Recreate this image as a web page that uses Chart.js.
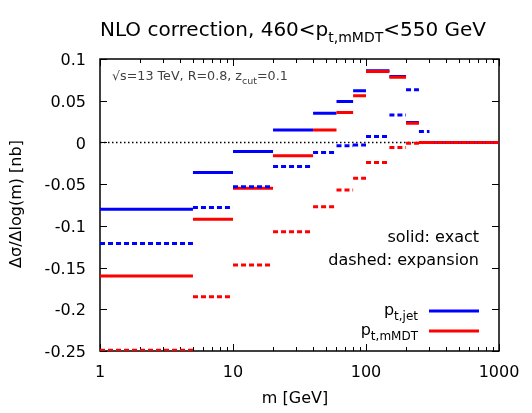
<!DOCTYPE html>
<html>
<head>
<meta charset="utf-8">
<script src="https://cdn.jsdelivr.net/npm/chart.js@4.4.1/dist/chart.umd.min.js"></script>
<style>
  html, body { margin: 0; padding: 0; background: #fff; }
  #wrap { width: 532px; height: 413px; }
</style>
</head>
<body>
<div id="wrap"><canvas id="grafico" width="532" height="413"></canvas></div>
<script>
// bin edges in m [GeV]
const binEdges = [1, 5, 10, 20, 40, 60, 80, 100, 150, 200, 250, 300, 1000];

// Δσ/Δlog(m) [nb] per bin
const jetExact      = [-0.080, -0.036, -0.011, 0.015, 0.035, 0.049, 0.062, 0.086, 0.079, 0.024, 0.000, 0.000];
const mmdtExact     = [-0.160, -0.092, -0.055, -0.016, 0.015, 0.036, 0.056, 0.085, 0.078, 0.023, 0.000, 0.000];
const jetExpansion  = [-0.121, -0.078, -0.053, -0.029, -0.012, -0.004, -0.003, 0.007, 0.033, 0.063, 0.013, 0.000];
const mmdtExpansion = [-0.249, -0.185, -0.147, -0.107, -0.077, -0.057, -0.043, -0.024, -0.006, -0.001, 0.000, 0.000];

const xTickLabels = [1, 10, 100, 1000];
const yTicks = [-0.25, -0.2, -0.15, -0.1, -0.05, 0, 0.05, 0.1];

const FONT = "'DejaVu Sans', sans-serif";

// turn bin values into horizontal segments, broken by nulls
function bins(values) {
    const pts = [];
    values.forEach(function (v, i) {
        pts.push({ x: binEdges[i], y: v });
        pts.push({ x: binEdges[i + 1], y: v });
        pts.push({ x: binEdges[i + 1], y: null });
    });
    return pts;
}

// text with subscripts: parts = [[text, isSub], ...]
function drawSub(ctx, parts, x, y, align, size, subSize) {
    let w = 0;
    parts.forEach(function (p) {
        ctx.font = (p[1] ? subSize : size) + "px " + FONT;
        w += ctx.measureText(p[0]).width;
    });
    let cx = x;
    if (align === "center") cx = x - w / 2;
    if (align === "right") cx = x - w;
    ctx.textAlign = "left";
    ctx.textBaseline = "alphabetic";
    parts.forEach(function (p) {
        ctx.font = (p[1] ? subSize : size) + "px " + FONT;
        ctx.fillText(p[0], cx, p[1] ? y + Math.round(size * 0.3) : y);
        cx += ctx.measureText(p[0]).width;
    });
}

const decor = {
    id: "decor",
    beforeDatasetsDraw(chart) {
        const ctx = chart.ctx;
        const a = chart.chartArea;
        const xs = chart.scales.x, ys = chart.scales.y;
        ctx.save();
        ctx.strokeStyle = "#000";
        // ticks (inside, mirrored)
        ctx.lineWidth = 1;
        ctx.beginPath();
        for (let d = 1; d < 1000; d *= 10) {
            for (let k = 1; k <= 10; k++) {
                const v = d * k;
                if (v > 1000) continue;
                const px = Math.round(xs.getPixelForValue(v)) + 0.5;
                const len = (k === 1 || k === 10) ? 7 : 4;
                ctx.moveTo(px, a.bottom); ctx.lineTo(px, a.bottom - len);
                ctx.moveTo(px, a.top); ctx.lineTo(px, a.top + len);
            }
        }
        yTicks.forEach(function (v) {
            const py = Math.round(ys.getPixelForValue(v)) + 0.5;
            ctx.moveTo(a.left, py); ctx.lineTo(a.left + 7, py);
            ctx.moveTo(a.right, py); ctx.lineTo(a.right - 7, py);
        });
        ctx.stroke();
        // frame
        ctx.lineWidth = 1.5;
        ctx.strokeRect(a.left, a.top, a.right - a.left, a.bottom - a.top);
        ctx.restore();
    },
    afterDraw(chart) {
        const ctx = chart.ctx;
        ctx.save();
        ctx.fillStyle = "#000";
        // title
        drawSub(ctx, [["NLO correction, 460<p", false], ["t,mMDT", true], ["<550 GeV", false]], 293, 36, "center", 20, 14);
        // annotation
        ctx.fillStyle = "#404040";
        drawSub(ctx, [["\u221As=13 TeV, R=0.8, z", false], ["cut", true], ["=0.1", false]], 112, 80, "left", 12.7, 9.5);
        ctx.fillStyle = "#000";
        // axis titles
        ctx.font = "16px " + FONT;
        ctx.textAlign = "center";
        ctx.textBaseline = "middle";
        ctx.fillText("m [GeV]", 295, 399);
        ctx.save();
        ctx.translate(17, 204);
        ctx.rotate(-Math.PI / 2);
        ctx.fillText("\u0394\u03C3/\u0394log(m) [nb]", 0, 0);
        ctx.restore();
        // style notes
        ctx.font = "16px " + FONT;
        ctx.textAlign = "right";
        ctx.textBaseline = "alphabetic";
        ctx.fillText("solid: exact", 479, 242);
        ctx.fillText("dashed: expansion", 479, 265);
        // legend
        const keys = [["t,jet", "#0000ff", 311], ["t,mMDT", "#ff0000", 331]];
        keys.forEach(function (k) {
            ctx.fillStyle = "#000";
            drawSub(ctx, [["p", false], [k[0], true]], 418, k[2] + 4, "right", 16, 12);
            ctx.strokeStyle = k[1];
            ctx.lineWidth = 3;
            ctx.beginPath();
            ctx.moveTo(429, k[2]);
            ctx.lineTo(479, k[2]);
            ctx.stroke();
        });
        ctx.restore();
    }
};

function series(label, values, color, dashed, order) {
    return {
        label: label,
        data: bins(values),
        borderColor: color,
        backgroundColor: color,
        borderWidth: 3,
        borderDash: dashed ? [5, 3] : [],
        borderCapStyle: "butt",
        pointRadius: 0,
        spanGaps: false,
        tension: 0,
        order: order,
    };
}

const ctx = document.getElementById("grafico").getContext("2d");
new Chart(ctx, {
    type: "line",
    data: {
        datasets: [
            {
                label: "zero",
                data: [{ x: 1, y: 0 }, { x: 1000, y: 0 }],
                borderColor: "#000",
                borderWidth: 1.5,
                borderDash: [1.5, 2.5],
                pointRadius: 0,
                order: 9,
            },
            series("pt,jet exact", jetExact, "#0000ff", false, 8),
            series("pt,mMDT exact", mmdtExact, "#ff0000", false, 7),
            series("pt,jet expansion", jetExpansion, "#0000ff", true, 6),
            series("pt,mMDT expansion", mmdtExpansion, "#ff0000", true, 5),
        ],
    },
    options: {
        responsive: false,
        animation: false,
        devicePixelRatio: 1,
        layout: { padding: { top: 59, right: 33, left: 0, bottom: 0 } },
        plugins: {
            legend: { display: false },
            tooltip: { enabled: false },
            title: { display: false },
        },
        scales: {
            x: {
                type: "logarithmic",
                min: 1,
                max: 1000,
                grid: { display: false, drawTicks: false },
                border: { display: false },
                afterFit: function (s) { s.height = 62; },
                ticks: {
                    autoSkip: false,
                    maxRotation: 0,
                    padding: 12,
                    color: "#000",
                    font: { family: FONT, size: 16 },
                    callback: function (v) { return xTickLabels.includes(v) ? String(v) : ""; },
                },
            },
            y: {
                type: "linear",
                min: -0.25,
                max: 0.1,
                grid: { display: false, drawTicks: false },
                border: { display: false },
                afterFit: function (s) { s.width = 100; },
                ticks: {
                    stepSize: 0.05,
                    padding: 14,
                    labelOffset: 2,
                    color: "#000",
                    font: { family: FONT, size: 16 },
                    callback: function (v) { return String(Math.round(v * 100) / 100); },
                },
            },
        },
    },
    plugins: [decor],
});
</script>
</body>
</html>
